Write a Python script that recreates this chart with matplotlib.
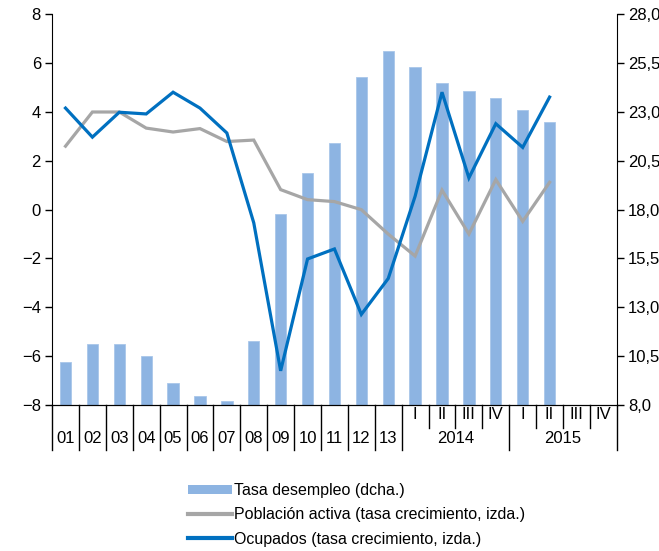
import numpy as np
import matplotlib.pyplot as plt
import matplotlib.transforms as mtransforms
from matplotlib.patches import Patch
from matplotlib.lines import Line2D

plt.rcParams['font.family'] = ['Liberation Sans', 'DejaVu Sans']

# periodos: años 2001-2013 y trimestres 2014-2015
anios = ['01', '02', '03', '04', '05', '06', '07', '08', '09', '10', '11', '12', '13']
trimestres = ['I', 'II', 'III', 'IV', 'I', 'II', 'III', 'IV']
años_trim = ['2014', '2015']

# tasa de desempleo (%), eje derecho
desempleo = [10.2, 11.1, 11.1, 10.5, 9.15, 8.45, 8.2, 11.3, 17.8, 19.9, 21.4, 24.8, 26.1,
             25.3, 24.5, 24.1, 23.7, 23.1, 22.5]
# población activa, tasa de crecimiento, eje izquierdo
activa = [2.6, 4.0, 4.0, 3.34, 3.18, 3.32, 2.79, 2.85, 0.82, 0.41, 0.33, 0.0, -1.0,
          -1.9, 0.8, -1.0, 1.23, -0.48, 1.12]
# ocupados, tasa de crecimiento, eje izquierdo
ocupados = [4.16, 2.97, 3.99, 3.92, 4.81, 4.16, 3.14, -0.54, -6.6, -2.02, -1.61, -4.29, -2.82,
            0.55, 4.81, 1.3, 3.52, 2.55, 4.61]

n_total = len(anios) + len(trimestres)
x = np.arange(len(desempleo))

fig = plt.figure(figsize=(6.59, 5.51), dpi=100)
ax = fig.add_axes([0.079, 0.265, 0.857, 0.709])
ax2 = ax.twinx()

ax2.bar(x, desempleo, width=0.42, color='#8db4e2', edgecolor='#a9c6ea', linewidth=0.6)
ax.plot(x, activa, color='#a6a6a6', lw=2.3, solid_joinstyle='miter')
ax.plot(x, ocupados, color='#0070c0', lw=2.3, solid_joinstyle='miter')

ax.set_zorder(ax2.get_zorder() + 1)
ax.patch.set_visible(False)

ax.set_xlim(-0.5, n_total - 0.5)
ax.set_ylim(-8, 8)
ax2.set_ylim(8, 28)
ax.set_yticks(np.arange(-8, 9, 2))
ax2.set_yticks(np.arange(8, 28.1, 2.5))
ax2.set_yticklabels([f'{v:.1f}'.replace('.', ',') for v in np.arange(8, 28.1, 2.5)])

for a in (ax, ax2):
    a.spines['top'].set_visible(False)
    a.tick_params(axis='y', labelsize=12, length=5, width=1, direction='out', pad=3)
    a.set_xticks([])
ax.spines['right'].set_visible(False)
ax2.spines['left'].set_visible(False)

# separadores y etiquetas del eje x
tr = mtransforms.blended_transform_factory(ax.transData, ax.transAxes)
largo = -0.115
corto = -0.058
bordes = [i - 0.5 for i in range(n_total + 1)]
for i, b in enumerate(bordes):
    if i <= len(anios) or (i - len(anios)) % 4 == 0:
        y0 = largo
    else:
        y0 = corto
    ax.plot([b, b], [0, y0], transform=tr, color='black', lw=1, clip_on=False)

for i, lab in enumerate(anios):
    ax.text(i, -0.085, lab, transform=tr, ha='center', va='center', fontsize=12)
for j, lab in enumerate(trimestres):
    ax.text(len(anios) + j, -0.024, lab, transform=tr, ha='center', va='center', fontsize=12)
for k, lab in enumerate(años_trim):
    ax.text(len(anios) + 4 * k + 1.5, -0.087, lab, transform=tr, ha='center', va='center',
            fontsize=12)

handles = [Patch(facecolor='#8db4e2', edgecolor='none'),
           Line2D([], [], color='#a6a6a6', lw=3),
           Line2D([], [], color='#0070c0', lw=3)]
labels = ['Tasa desempleo (dcha.)',
          'Población activa (tasa crecimiento, izda.)',
          'Ocupados (tasa crecimiento, izda.)']
fig.legend(handles, labels, loc='upper left', bbox_to_anchor=(0.275, 0.135), frameon=False,
           fontsize=11.5, handlelength=2.8, handleheight=0.55, handletextpad=0.1,
           labelspacing=0.58, borderaxespad=0)

fig.savefig('out.png', dpi=100)
